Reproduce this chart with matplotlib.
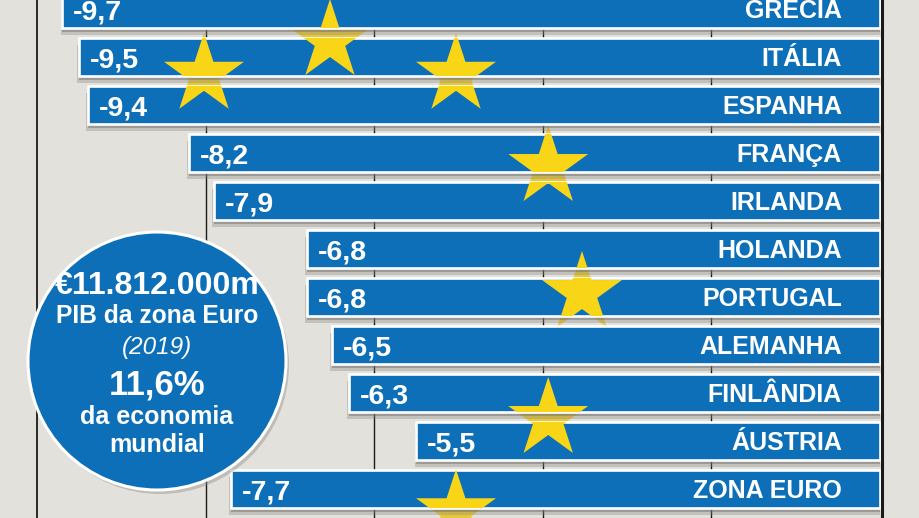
import numpy as np
import matplotlib
matplotlib.use("Agg")
import matplotlib.pyplot as plt
from matplotlib.patches import Polygon, Ellipse, Rectangle
from matplotlib.path import Path

# data
countries = ['GRÉCIA', 'ITÁLIA', 'ESPANHA', 'FRANÇA', 'IRLANDA', 'HOLANDA',
             'PORTUGAL', 'ALEMANHA', 'FINLÂNDIA', 'ÁUSTRIA', 'ZONA EURO']
values = [-9.7, -9.5, -9.4, -8.2, -7.9, -6.8, -6.8, -6.5, -6.3, -5.5, -7.7]
grid_ticks = [-8, -6, -4, -2]
circle_lines = ['€11.812.000m', 'PIB da zona Euro', '(2019)', '11,6%',
                'da economia', 'mundial']

plt.rcParams['font.family'] = ['Liberation Sans', 'DejaVu Sans']

BLUE = '#0c6fb8'
YELLOW = '#f8d516'
BG = '#e3e1dc'

# pixel scale of the axes (920 x 518 figure)
SX = 84.3   # px per unit on x
SY = 48.0   # px per bar slot on y

fig = plt.figure(figsize=(9.2, 5.18), dpi=100)
fig.patch.set_facecolor(BG)
ax = fig.add_axes([0, 0, 1, 1])
ax.set_facecolor(BG)
ax.set_xlim(-880 / SX, 40 / SX)
ax.set_ylim((518 - 9) / SY, -9 / SY)
ax.axis('off')

y = np.arange(len(countries))
h = 0.79

# grid and frame lines
for t in grid_ticks:
    ax.axvline(t, color='#1a1a1a', lw=1.0, zorder=1)
ax.axvline(-10, color='#1a1a1a', lw=1.3, zorder=1)

# stars seen through the gaps (dimmed by the shadows on top)
ring_cx, ring_cy, ring_r, star_r = (330 - 880) / SX, (293 - 9) / SY, 252, 42
star_angles = [120, 90, 60, 30, 0, -30, -60]

def star_xy(a):
    x = ring_cx + ring_r * np.cos(np.radians(a)) / SX
    yy = ring_cy - ring_r * np.sin(np.radians(a)) / SY
    pts = []
    for k in range(10):
        r = star_r if k % 2 == 0 else star_r * 0.382
        ang = np.radians(90 + 36 * k)
        pts.append((x + r * np.cos(ang) / SX, yy - r * np.sin(ang) / SY))
    return pts

gap_paths = []
for i in range(len(values)):
    left = values[i] if i == len(values) - 1 else max(values[i], values[i + 1])
    bottom = y[i] + h / 2
    top = y[i] + 1 - h / 2 if i < len(values) - 1 else y[i] + 2
    r = Rectangle((left, bottom), -left, top - bottom)
    gap_paths.append(r.get_path().transformed(r.get_patch_transform()))
gap_clip = Path.make_compound_path(*gap_paths)
for a in star_angles:
    s = Polygon(star_xy(a), closed=True, color='#e7c73a', lw=0, zorder=1.5)
    ax.add_patch(s)
    s.set_clip_path(gap_clip, ax.transData)

# soft drop shadows
ax.barh(y + 0.08, values, height=h, color='#5f5d59', alpha=0.45, lw=0, zorder=2)
ax.barh(y + 0.15, [v - 0.02 for v in values], height=h, color='#8a8883',
        alpha=0.35, lw=0, zorder=2)

bars = ax.barh(y, values, height=h, color=BLUE, edgecolor='white', lw=1.9,
               zorder=3)

# stars on top of the bars, clipped to them
bar_paths = [b.get_path().transformed(b.get_patch_transform()) for b in bars]
bar_clip = Path.make_compound_path(*bar_paths)
for a in star_angles:
    s = Polygon(star_xy(a), closed=True, color=YELLOW, lw=0, zorder=4)
    ax.add_patch(s)
    s.set_clip_path(bar_clip, ax.transData)

ax.axvline(0.02, color='#1a1a1a', lw=2.2, zorder=5)

for yi, v, name in zip(y, values, countries):
    ax.text(v + 0.13, yi + 0.22, f'{v:.1f}'.replace('.', ','), color='white',
            fontsize=20.5, fontweight='bold', ha='left', va='baseline', zorder=6)
    ax.text(-0.45, yi + 0.19, name, color='white', fontsize=18,
            fontweight='bold', ha='right', va='baseline', zorder=6)

# info circle
cx, cy, cr = (157 - 880) / SX, (361 - 9) / SY, 129
ax.add_patch(Ellipse((cx + 3 / SX, cy + 4 / SY), 2 * cr / SX, 2 * cr / SY,
                     color='#8a8883', alpha=0.4, lw=0, zorder=6))
ax.add_patch(Ellipse((cx, cy), 2 * cr / SX, 2 * cr / SY, facecolor=BLUE,
                     edgecolor='white', lw=2.2, zorder=7))
line_py = [286, 316, 347, 385, 417, 445]
line_fs = [23, 17.7, 17.5, 25, 18, 18]
for txt, py, fs in zip(circle_lines, line_py, line_fs):
    ax.text(cx, (py - 9) / SY, txt, color='white', fontsize=fs,
            fontweight='normal' if txt.startswith('(') else 'bold',
            fontstyle='italic' if txt.startswith('(') else 'normal',
            ha='center', va='center', zorder=8)

fig.savefig('out.png', dpi=100, facecolor=BG)
